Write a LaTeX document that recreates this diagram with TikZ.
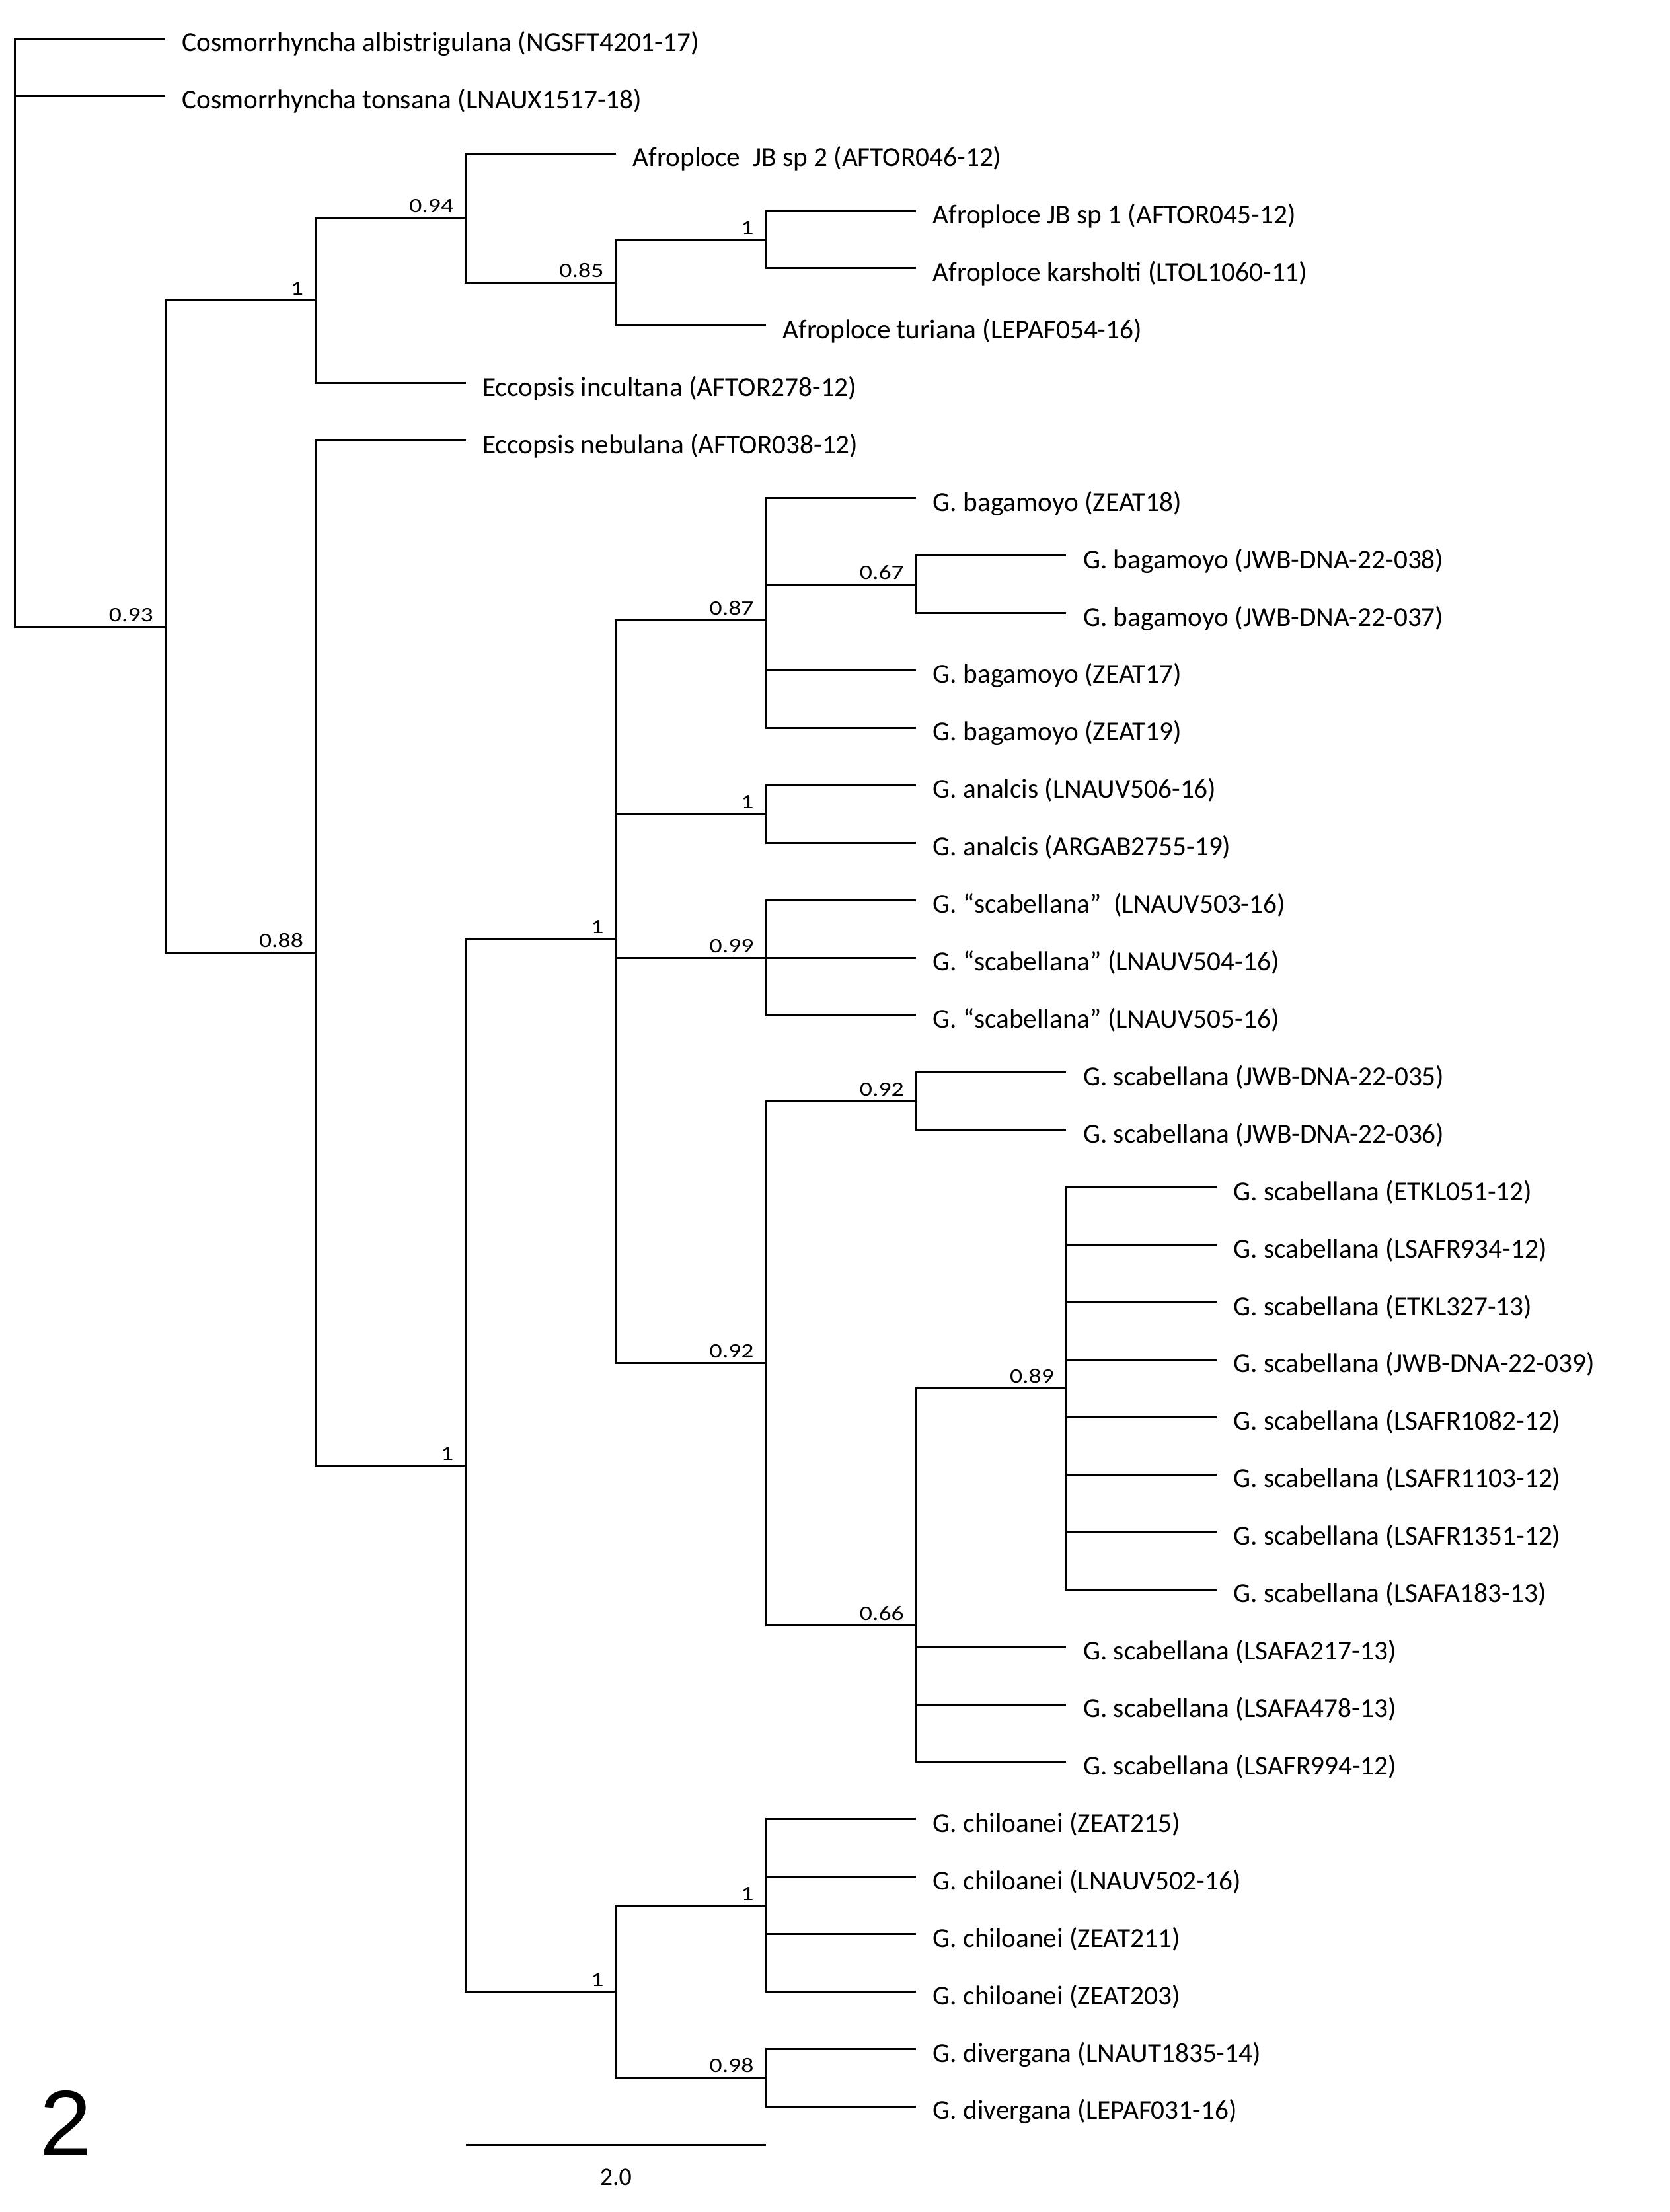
\documentclass[tikz,border=0pt]{standalone}
\usepackage{fontspec}
\setmainfont{Carlito}
\newfontfamily\suppfont[FakeStretch=1.22]{Carlito}
\newfontfamily\panelfont{Liberation Sans}

\tikzset{
  branch/.style={line width=0.85pt},
  leaflab/.style={anchor=base west,inner sep=0pt,xshift=0.25cm,yshift=-0.195cm,
    font=\fontsize{11.75}{14}\selectfont},
  supp/.style={anchor=base east,inner sep=0pt,xshift=-0.177cm,yshift=0.08cm,
    font=\suppfont\fontsize{8.8}{10}\selectfont},
}

\begin{document}
\begin{tikzpicture}[x=2.272cm,y=-0.8692cm]
\useasboundingbox (-0.1012,0.3293) rectangle (11.0211,38.836);

% tips and names
\foreach \i/\x/\name in {
  1/1/Cosmorrhyncha albistrigulana (NGSFT4201-17),
  2/1/Cosmorrhyncha tonsana (LNAUX1517-18),
  3/4/Afroploce~ JB sp 2 (AFTOR046-12),
  4/6/Afroploce JB sp 1 (AFTOR045-12),
  5/6/Afroploce karsholti (LTOL1060-11),
  6/5/Afroploce turiana (LEPAF054-16),
  7/3/Eccopsis incultana (AFTOR278-12),
  8/3/Eccopsis nebulana (AFTOR038-12),
  9/6/G. bagamoyo (ZEAT18),
  10/7/G. bagamoyo (JWB-DNA-22-038),
  11/7/G. bagamoyo (JWB-DNA-22-037),
  12/6/G. bagamoyo (ZEAT17),
  13/6/G. bagamoyo (ZEAT19),
  14/6/G. analcis (LNAUV506-16),
  15/6/G. analcis (ARGAB2755-19),
  16/6/G. “scabellana”~ (LNAUV503-16),
  17/6/G. “scabellana” (LNAUV504-16),
  18/6/G. “scabellana” (LNAUV505-16),
  19/7/G. scabellana (JWB-DNA-22-035),
  20/7/G. scabellana (JWB-DNA-22-036),
  21/8/G. scabellana (ETKL051-12),
  22/8/G. scabellana (LSAFR934-12),
  23/8/G. scabellana (ETKL327-13),
  24/8/G. scabellana (JWB-DNA-22-039),
  25/8/G. scabellana (LSAFR1082-12),
  26/8/G. scabellana (LSAFR1103-12),
  27/8/G. scabellana (LSAFR1351-12),
  28/8/G. scabellana (LSAFA183-13),
  29/7/G. scabellana (LSAFA217-13),
  30/7/G. scabellana (LSAFA478-13),
  31/7/G. scabellana (LSAFR994-12),
  32/6/G. chiloanei (ZEAT215),
  33/6/G. chiloanei (LNAUV502-16),
  34/6/G. chiloanei (ZEAT211),
  35/6/G. chiloanei (ZEAT203),
  36/6/G. divergana (LNAUT1835-14),
  37/6/G. divergana (LEPAF031-16)}{
  \coordinate (t\i) at (\x,\i);
  \node[leaflab] (l\i) at (t\i) {\name};
}

% inner nodes
\coordinate (root) at (0,1);
\coordinate (nA) at (1,11.240234);
\coordinate (nB) at (2,5.5625);
\coordinate (nC) at (3,4.125);
\coordinate (nD) at (4,5.25);
\coordinate (nE) at (5,4.5);
\coordinate (nF) at (2,16.917969);
\coordinate (nG) at (3,25.835938);
\coordinate (nH) at (4,16.671875);
\coordinate (nI) at (5,11.125);
\coordinate (nJ) at (6,10.5);
\coordinate (nK) at (5,14.5);
\coordinate (nL) at (5,17);
\coordinate (nM) at (5,24.0625);
\coordinate (nN) at (6,19.5);
\coordinate (nO) at (6,28.625);
\coordinate (nP) at (7,24.5);
\coordinate (nQ) at (4,35);
\coordinate (nR) at (5,33.5);
\coordinate (nS) at (5,36.5);

\foreach \p/\c in {root/t1,root/t2,root/nA,nA/nB,nA/nF,nB/nC,nB/t7,
  nC/t3,nC/nD,nD/nE,nD/t6,nE/t4,nE/t5,nF/t8,nF/nG,nG/nH,nG/nQ,
  nH/nI,nH/nK,nH/nL,nH/nM,nI/t9,nI/nJ,nI/t12,nI/t13,nJ/t10,nJ/t11,
  nK/t14,nK/t15,nL/t16,nL/t17,nL/t18,nM/nN,nM/nO,nN/t19,nN/t20,
  nO/nP,nO/t29,nO/t30,nO/t31,nP/t21,nP/t22,nP/t23,nP/t24,nP/t25,
  nP/t26,nP/t27,nP/t28,nQ/nR,nQ/nS,nR/t32,nR/t33,nR/t34,nR/t35,
  nS/t36,nS/t37}
  \draw[branch] (\p) |- (\c);

% support values
\foreach \n/\v in {nA/0.93,nB/1,nC/0.94,nD/0.85,nE/1,nF/0.88,nG/1,nH/1,
  nI/0.87,nJ/0.67,nK/1,nL/0.99,nM/0.92,nN/0.92,nO/0.66,nP/0.89,
  nQ/1,nR/1,nS/0.98}
  \node[supp] (s\n) at (\n) {\v};

% scale bar
\coordinate (sbL) at (3,37.666);
\coordinate (sbR) at (5,37.666);
\draw[branch] (sbL) -- (sbR);
\node[anchor=base,inner sep=0pt,font=\fontsize{10.8}{13}\selectfont] (sblab) at (4,38.37) {2.0};

\node[anchor=base,inner sep=0pt,font=\panelfont\fontsize{40}{44}\selectfont] (panel) at (0.339,37.855) {2};
\end{tikzpicture}
\end{document}
